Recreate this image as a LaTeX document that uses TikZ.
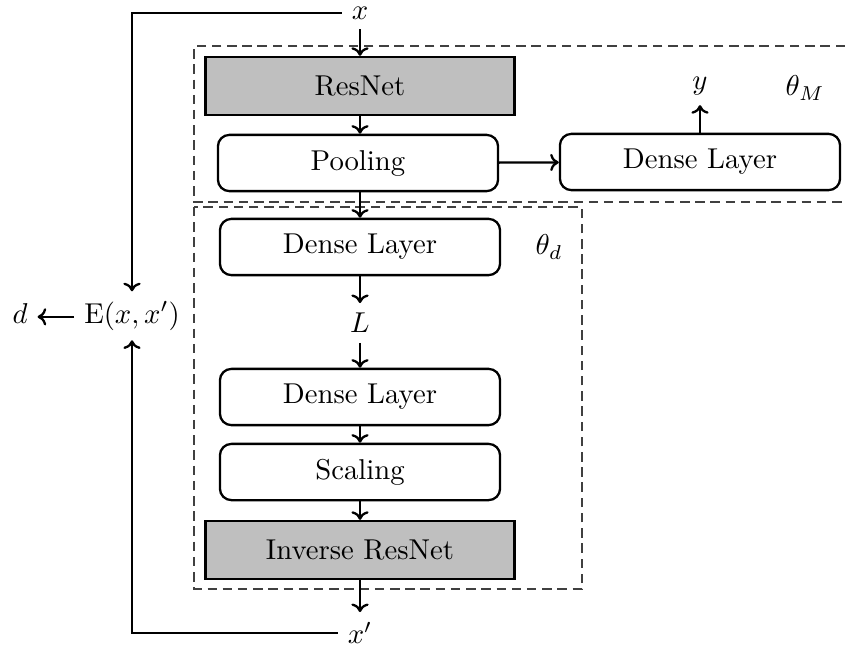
\documentclass[tikz,border=0pt]{standalone}
\usetikzlibrary{arrows.meta}
\begin{document}
\begin{tikzpicture}[x=0.3484pt, y=-0.3484pt,
  flow/.style={thick, -{To[length=3pt,width=6pt]}},
  layer/.style={draw, thick, rounded corners=4pt, minimum width=97.6pt, minimum height=19.6pt},
  resblock/.style={draw, thick, fill=black!25, minimum width=107.6pt, minimum height=20.2pt},
  group/.style={draw=black!75, thin, dash pattern=on 3.3pt off 2pt}]
  \useasboundingbox (0,0) rectangle (845,650);

  % parameter groups
  \draw[group] (845,46) -- (194,46) -- (194,202) -- (845,202);
  \draw[group] (194,207) rectangle (582,589);

  % encoder and predictor
  \node (xin) at (360,13) {$x$};
  \node[resblock] (resnet) at (360,86) {ResNet};
  \node[layer] (pool) at (358,163) {Pooling};
  \node[layer] (densem) at (700,162) {Dense Layer};
  \node (yout) at (700,86) {$y$};
  \node (thetaM) at (805,88) {$\theta_M$};

  % decoder
  \node[layer] (dense1) at (360,247) {Dense Layer};
  \node (thetad) at (549,247) {$\theta_d$};
  \node (lat) at (360,323) {$L$};
  \node[layer] (dense2) at (360,397) {Dense Layer};
  \node[layer] (scale) at (360,472) {Scaling};
  \node[resblock] (invres) at (360,550) {Inverse ResNet};
  \node (xout) at (360,633) {$x'$};

  % distance
  \node[anchor=base] (energy) at (132,323) {$\mathrm{E}(x,x')$};
  \node[anchor=base] (dout) at (20,323) {$d$};

  \draw[flow] (xin) -- (resnet);
  \draw[flow] (resnet) -- (resnet.south |- pool.north);
  \draw[flow] (pool) -- (densem);
  \draw[flow] (densem) -- (yout);
  \draw[flow] (pool.south -| dense1.north) -- (dense1);
  \draw[flow] (dense1) -- (lat);
  \draw[flow] (lat) -- (dense2);
  \draw[flow] (dense2) -- (scale);
  \draw[flow] (scale) -- (invres);
  \draw[flow] (invres) -- (xout);
  \draw[flow] (xin.west) -| (energy.north);
  \draw[flow] (xout.west) -| (energy.south);
  \draw[flow] (energy.mid west) -- (dout.mid east);
\end{tikzpicture}
\end{document}
